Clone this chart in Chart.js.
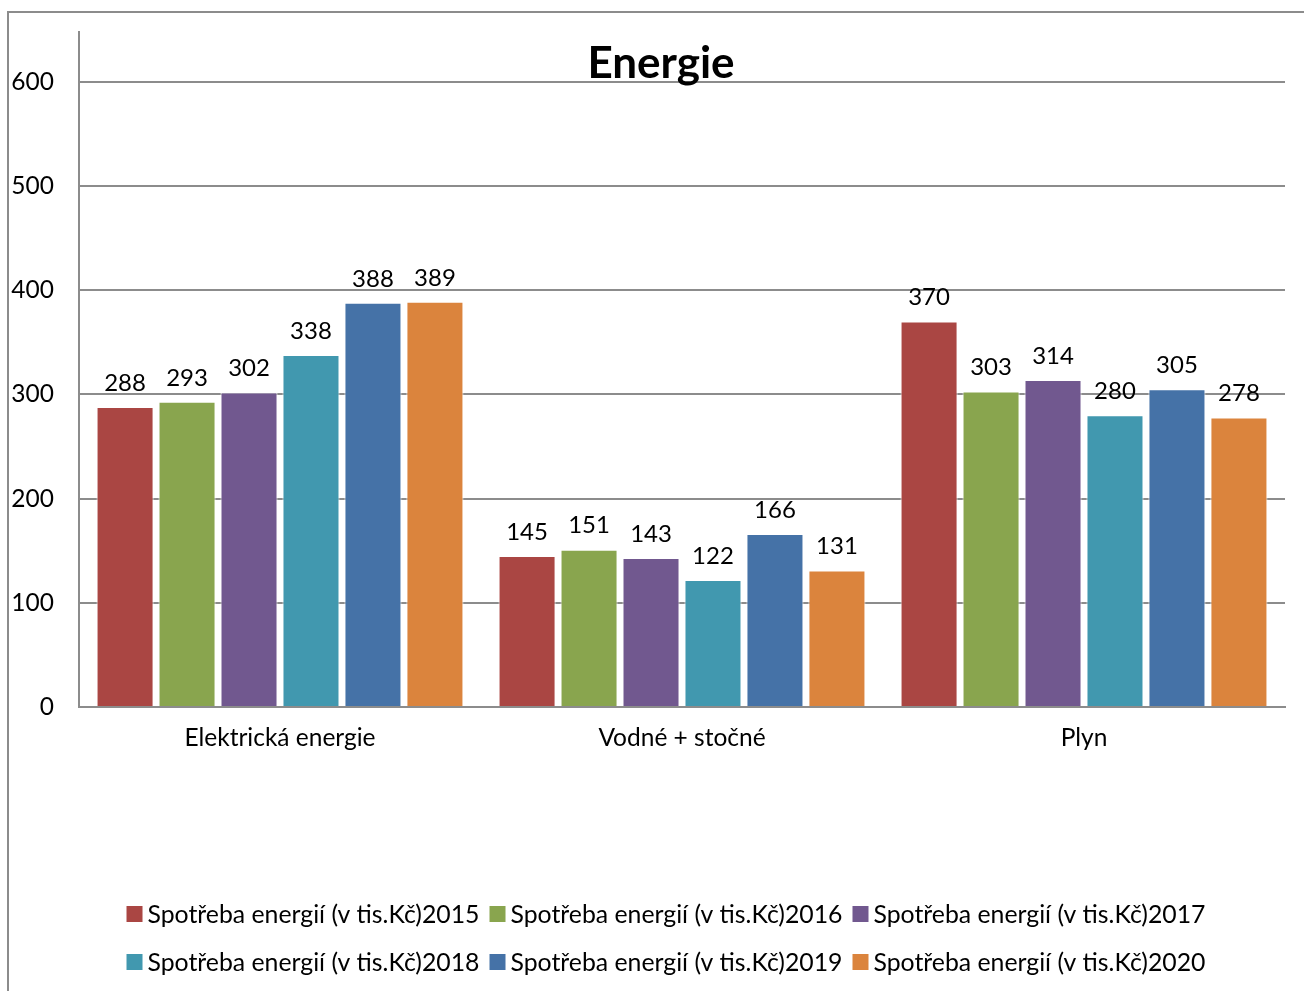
<!DOCTYPE html>
<html>
<head>
<meta charset="utf-8">
<script src="https://cdn.jsdelivr.net/npm/chart.js@4/dist/chart.umd.min.js"></script>
<style>
  html, body { margin: 0; padding: 0; background: #fff; }
  #wrap { width: 1304px; height: 991px; }
</style>
</head>
<body>
<div id="wrap"><canvas id="energyChart"></canvas></div>
<script>
const categories = ["Elektrická energie", "Vodné + stočné", "Plyn"];
const seriesNames = [
  "Spotřeba energií (v tis.Kč)2015",
  "Spotřeba energií (v tis.Kč)2016",
  "Spotřeba energií (v tis.Kč)2017",
  "Spotřeba energií (v tis.Kč)2018",
  "Spotřeba energií (v tis.Kč)2019",
  "Spotřeba energií (v tis.Kč)2020",
];
const values2015 = [288, 145, 370];
const values2016 = [293, 151, 303];
const values2017 = [302, 143, 314];
const values2018 = [338, 122, 280];
const values2019 = [388, 166, 305];
const values2020 = [389, 131, 278];
const yTicks = [0, 100, 200, 300, 400, 500, 600];

const allValues = [values2015, values2016, values2017, values2018, values2019, values2020];
const colors = ["#AA4643", "#89A54E", "#71588F", "#4198AF", "#4572A7", "#DB843D"];
const FONT = "Lato, 'Open Sans', sans-serif";

// frame, title, data labels and legend drawn on the canvas
const decorPlugin = {
  id: "decor",
  beforeDraw(chart) {
    const c = chart.ctx;
    c.save();
    c.strokeStyle = "#8c8c8c";
    c.lineWidth = 2;
    c.beginPath();
    c.moveTo(8, 991);
    c.lineTo(8, 12);
    c.lineTo(1304, 12);
    c.stroke();
    c.restore();
  },
  afterDatasetsDraw(chart) {
    const c = chart.ctx;
    c.save();
    c.fillStyle = "#000";
    c.font = "24px " + FONT;
    c.textAlign = "center";
    c.textBaseline = "bottom";
    chart.data.datasets.forEach((ds, i) => {
      chart.getDatasetMeta(i).data.forEach((bar, j) => {
        c.fillText(String(ds.data[j]), bar.x, bar.y - 12);
      });
    });

    // title
    c.font = "bold 44px " + FONT;
    c.textBaseline = "alphabetic";
    c.fillText("Energie", 661, 78);

    // legend: 3 per row
    c.font = "24.8px " + FONT;
    c.textAlign = "left";
    c.textBaseline = "middle";
    const widths = chart.data.datasets.map((ds) => 16 + 5 + c.measureText(ds.label).width);
    const stride = Math.max(...widths) + 10;
    const startX = 666 - (stride * 3 - 10) / 2;
    chart.data.datasets.forEach((ds, i) => {
      const row = Math.floor(i / 3);
      const col = i % 3;
      const x = startX + col * stride;
      const y = 914 + row * 48;
      c.fillStyle = ds.backgroundColor;
      c.fillRect(x, y - 8, 16, 16);
      c.fillStyle = "#000";
      c.fillText(ds.label, x + 21, y + 1);
    });
    c.restore();
  },
};

new Chart(document.getElementById("energyChart"), {
  type: "bar",
  data: {
    labels: categories,
    datasets: seriesNames.map((name, i) => ({
      label: name,
      data: allValues[i],
      backgroundColor: colors[i],
      borderColor: "#ffffff",
      borderWidth: 1,
      categoryPercentage: 0.925,
      barPercentage: 0.92,
    })),
  },
  options: {
    responsive: true,
    maintainAspectRatio: false,
    animation: false,
    layout: { padding: { left: 0, right: 19, top: 32, bottom: 0 } },
    plugins: {
      legend: { display: false },
      title: { display: false },
      tooltip: { enabled: false },
    },
    scales: {
      x: {
        grid: { display: false, drawTicks: false },
        border: { color: "#8c8c8c", width: 2 },
        ticks: { color: "#000", font: { family: FONT, size: 24.5 }, padding: 16 },
        afterFit(scale) {
          scale.height = 284;
          scale.paddingLeft = 0;
          scale.paddingRight = 0;
        },
      },
      y: {
        min: 0,
        max: 648,
        grid: { color: "#8c8c8c", lineWidth: 2, drawTicks: false },
        border: { color: "#8c8c8c", width: 2 },
        ticks: {
          stepSize: 100,
          includeBounds: false,
          color: "#000",
          font: { family: FONT, size: 24.5 },
          padding: 25,
          callback: (v) => (yTicks.includes(v) ? String(v) : ""),
        },
        afterFit(scale) {
          scale.width = 79;
          scale.paddingTop = 0;
          scale.paddingBottom = 0;
        },
      },
    },
  },
  plugins: [decorPlugin],
});
</script>
</body>
</html>
